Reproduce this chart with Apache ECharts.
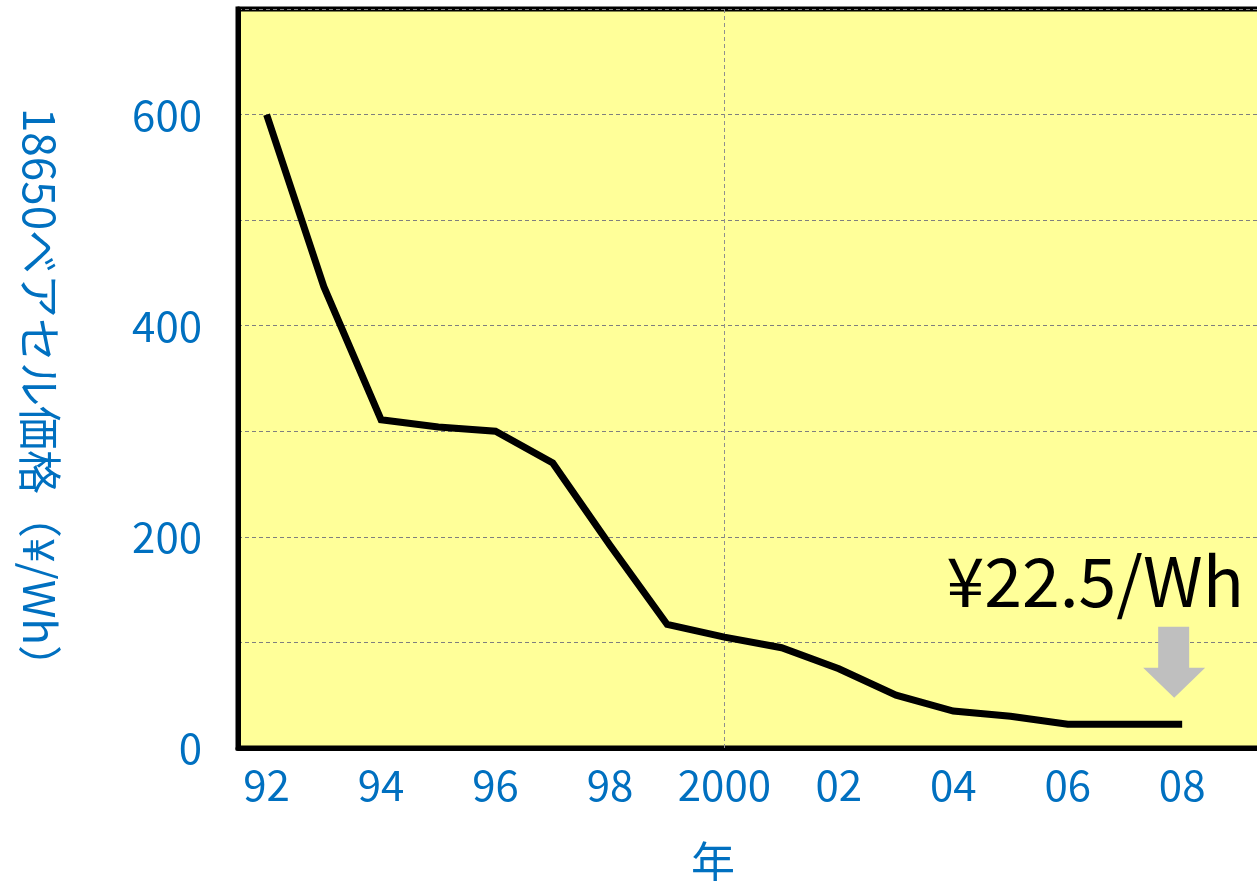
<!DOCTYPE html>
<html>
<head>
<meta charset="utf-8">
<script src="https://cdn.jsdelivr.net/npm/echarts@6/dist/echarts.min.js"></script>
<style>
html,body{margin:0;padding:0;background:#fff;}
#chart{width:1257px;height:881px;}
</style>
</head>
<body>
<div id="chart"></div>
<script>
// Data
const years = ['92','93','94','95','96','97','98','99','2000','01','02','03','04','05','06','07','08','09'];
const prices = [600, 437, 311, 304, 300, 270, 192, 117, 105, 95, 75, 50, 35, 30, 22.5, 22.5, 22.5, null];
const yLabelValues = [0, 200, 400, 600];
const annotationYear = '08';
const annotationValue = 22.5;
const annotationText = '¥22.5/Wh';
const verticalGridYear = '2000';
const yTitle = '18650ベアセル価格（¥/Wh）';
const xTitle = '年';

const BLUE = '#0070C0';
const FONT = '"Noto Sans CJK JP", "Noto Sans", sans-serif';
const arrowPath = 'path://M15,0 L46,0 L46,41 L62,41 L31,71 L0,41 L15,41 Z';

const chart = echarts.init(document.getElementById('chart'), null, {renderer: 'canvas'});
chart.setOption({
  animation: false,
  backgroundColor: '#ffffff',
  grid: {
    left: 238, top: 9, bottom: 133, width: 1030,
    containLabel: false,
    outerBoundsMode: 'none',
    show: true, backgroundColor: '#FFFF99', borderColor: '#000', borderWidth: 5
  },
  xAxis: {
    type: 'category',
    data: years,
    boundaryGap: true,
    name: xTitle,
    nameLocation: 'middle',
    nameGap: 92,
    nameTextStyle: {color: BLUE, fontSize: 44, fontFamily: FONT, padding: [0, 80, 0, 0]},
    axisLine: {show: true, lineStyle: {color: '#000', width: 5}},
    axisTick: {show: false},
    axisLabel: {interval: 1, color: BLUE, fontSize: 42, fontFamily: FONT, margin: 16},
    splitLine: {show: false}
  },
  yAxis: {
    type: 'value',
    min: 0, max: 700, interval: 100,
    name: yTitle,
    nameLocation: 'middle',
    nameRotate: -90,
    nameGap: 176,
    nameTextStyle: {color: BLUE, fontSize: 44, fontFamily: FONT, padding: [0, 0, 0, 40]},
    axisLine: {show: true, lineStyle: {color: '#000', width: 5}},
    axisTick: {show: false},
    axisLabel: {
      color: BLUE, fontSize: 42, fontFamily: FONT, margin: 36,
      formatter: v => yLabelValues.includes(v) ? String(v) : ''
    },
    splitLine: {show: true, lineStyle: {color: '#7F7F7F', width: 1, type: [4, 3]}}
  },
  series: [{
    type: 'line',
    data: prices,
    symbol: 'none',
    lineStyle: {color: '#000', width: 7, cap: 'butt', join: 'miter'},
    z: 5,
    markLine: {
      silent: true, symbol: 'none', label: {show: false},
      lineStyle: {color: '#8F8F8F', width: 1, type: [4, 3]},
      data: [{xAxis: verticalGridYear}],
      z: 1
    },
    markPoint: {
      silent: true,
      data: [{
        coord: [annotationYear, annotationValue],
        symbol: arrowPath,
        symbolSize: [62, 71],
        symbolOffset: [-8, -62],
        itemStyle: {color: '#BFBFBF'},
        label: {
          show: true, position: 'top', distance: 0,
          formatter: annotationText, color: '#000',
          fontSize: 68, fontFamily: FONT, lineHeight: 70,
          offset: [-79, -11]
        }
      }]
    }
  }]
});
</script>
</body>
</html>
